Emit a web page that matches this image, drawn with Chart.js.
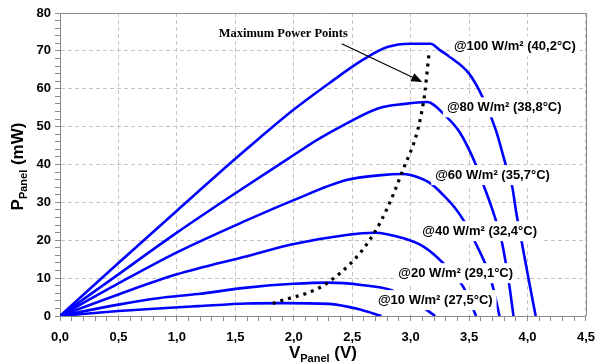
<!DOCTYPE html>
<html>
<head>
<meta charset="utf-8">
<script src="https://cdn.jsdelivr.net/npm/chart.js@4.4.1/dist/chart.umd.min.js"></script>
<style>
  html, body { margin: 0; padding: 0; background: #fff; }
</style>
</head>
<body>
<canvas id="chart" width="604" height="363"></canvas>
<script>
// panel voltage (V) / power (mW), one pair per irradiance
const v100 = [0, 0.5, 1.0, 1.5, 1.7, 2.0, 2.3, 2.6, 2.8, 3.0, 3.17, 3.25, 3.33, 3.5, 3.62, 3.73, 3.81, 3.87, 3.9, 3.95, 4.02, 4.07];
const p100 = [0, 14, 27.8, 41.5, 46.8, 54.5, 61.4, 67.8, 71, 71.9, 71.9, 70.2, 68.5, 64, 57.5, 49, 40.3, 34, 28, 19.6, 8, 0];

const v80 = [0, 0.5, 1.0, 1.5, 2.0, 2.2, 2.45, 2.72, 2.95, 3.14, 3.3, 3.42, 3.55, 3.63, 3.7, 3.78, 3.84, 3.88];
const p80 = [0, 11, 22, 32.4, 42.5, 46.5, 50.8, 54.8, 56, 56.5, 52.8, 48.5, 40.5, 34, 28, 19.6, 9, 0];

const v60 = [0, 0.5, 1.0, 1.6, 2.0, 2.45, 2.75, 2.92, 3.0, 3.17, 3.28, 3.38, 3.46, 3.55, 3.67, 3.71, 3.76];
const p60 = [0, 8.6, 16.8, 25.3, 30.6, 35.9, 37.2, 37.5, 37.2, 35, 31.9, 28.5, 24.9, 19.6, 11.3, 6.9, 0];

const v40 = [0, 0.5, 1.0, 1.6, 2.0, 2.45, 2.69, 2.94, 3.11, 3.28, 3.45, 3.56];
const p40 = [0, 5.7, 11, 15.8, 19, 21.4, 22, 20.5, 18.3, 13.9, 7.7, 0];

const v20 = [0, 0.5, 0.84, 1.18, 1.6, 2.0, 2.3, 2.58, 2.83, 3.0, 3.21];
const p20 = [0, 3, 4.7, 5.8, 7.5, 8.5, 8.8, 8.2, 6.9, 4.5, 0];

const v10 = [0, 0.5, 0.84, 1.18, 1.6, 1.9, 2.3, 2.58, 2.75];
const p10 = [0, 1.3, 2.0, 2.6, 3.3, 3.4, 3.2, 1.6, 0];

// maximum power points
const vMpp = [1.82, 2.30, 2.69, 2.92, 3.11, 3.16];
const pMpp = [3.3, 9.0, 22, 37.5, 56.5, 70];

const curveNames = [
  "@100 W/m² (40,2°C)",
  "@80 W/m² (38,8°C)",
  "@60 W/m² (35,7°C)",
  "@40 W/m² (32,4°C)",
  "@20 W/m² (29,1°C)",
  "@10 W/m² (27,5°C)"
];

const xTicks = [0, 0.5, 1.0, 1.5, 2.0, 2.5, 3.0, 3.5, 4.0, 4.5];
const yTicks = [0, 10, 20, 30, 40, 50, 60, 70, 80];

// where each curve name sits (left edge, middle), in axis units
const namePlaces = [[3.37, 71.2], [3.31, 55.1], [3.21, 37.2], [3.10, 22.4], [2.895, 11.3], [2.72, 4.2]];

function pts(vs, ps) {
  return vs.map((v, i) => ({ x: v, y: ps[i] }));
}

const isMajor = (v, list) => list.some(t => Math.abs(t - v) < 1e-6);
const comma = v => v.toFixed(1).replace(".", ",");

const blue = "#0000ff";
const curve = (vs, ps) => ({
  data: pts(vs, ps),
  borderColor: blue,
  borderWidth: 2.6,
  pointRadius: 0,
  cubicInterpolationMode: "monotone",
  fill: false
});

const sans = '"Liberation Sans", Arial, sans-serif';

const overlay = {
  id: "overlay",
  afterDatasetsDraw(chart) {
    const { ctx, chartArea: a, scales: { x, y } } = chart;
    ctx.save();

    // frame top/right
    ctx.strokeStyle = "#8c8c8c";
    ctx.lineWidth = 1;
    ctx.beginPath();
    ctx.moveTo(a.left, Math.round(a.top) + 0.5);
    ctx.lineTo(Math.round(a.right) + 0.5, Math.round(a.top) + 0.5);
    ctx.lineTo(Math.round(a.right) + 0.5, a.bottom);
    ctx.stroke();

    // curve names with white boxes
    ctx.font = "bold 13px " + sans;
    ctx.textBaseline = "middle";
    ctx.textAlign = "left";
    curveNames.forEach((t, i) => {
      const px = x.getPixelForValue(namePlaces[i][0]);
      const py = y.getPixelForValue(namePlaces[i][1]);
      const w = ctx.measureText(t).width;
      ctx.fillStyle = "#fff";
      ctx.fillRect(px - 4, py - 10, w + 8, 20);
      ctx.fillStyle = "#000";
      ctx.fillText(t, px, py);
    });

    // "Maximum Power Points" + arrow
    ctx.font = 'bold 12.5px "Liberation Serif", "Times New Roman", serif';
    ctx.textAlign = "center";
    ctx.fillText("Maximum Power Points", x.getPixelForValue(1.91), y.getPixelForValue(74.6));

    const x0 = x.getPixelForValue(2.41), y0 = y.getPixelForValue(71.9);
    const x1 = x.getPixelForValue(3.10), y1 = y.getPixelForValue(61.8);
    const ang = Math.atan2(y1 - y0, x1 - x0);
    ctx.strokeStyle = "#000";
    ctx.lineWidth = 1.2;
    ctx.beginPath();
    ctx.moveTo(x0, y0);
    ctx.lineTo(x1 - 8 * Math.cos(ang), y1 - 8 * Math.sin(ang));
    ctx.stroke();
    ctx.fillStyle = "#000";
    ctx.beginPath();
    ctx.moveTo(x1, y1);
    ctx.lineTo(x1 - 11 * Math.cos(ang) + 4.5 * Math.sin(ang), y1 - 11 * Math.sin(ang) - 4.5 * Math.cos(ang));
    ctx.lineTo(x1 - 11 * Math.cos(ang) - 4.5 * Math.sin(ang), y1 - 11 * Math.sin(ang) + 4.5 * Math.cos(ang));
    ctx.closePath();
    ctx.fill();

    // axis titles with subscripts
    const parts = (main, sub, rest) => [
      { t: main, f: "bold 17px " + sans, dy: 0 },
      { t: sub, f: "bold 11px " + sans, dy: 4 },
      { t: rest, f: "bold 17px " + sans, dy: 0 }
    ];
    const drawTitle = (segs, cx, cy, rot) => {
      ctx.save();
      ctx.translate(cx, cy);
      ctx.rotate(rot);
      ctx.textAlign = "left";
      ctx.textBaseline = "alphabetic";
      let total = 0;
      segs.forEach(s => { ctx.font = s.f; s.w = ctx.measureText(s.t).width; total += s.w; });
      let pos = -total / 2;
      segs.forEach(s => { ctx.font = s.f; ctx.fillText(s.t, pos, s.dy); pos += s.w; });
      ctx.restore();
    };
    drawTitle(parts("V", "Panel", " (V)"), (a.left + a.right) / 2, 358, 0);
    drawTitle(parts("P", "Panel", " (mW)"), 23, (a.top + a.bottom) / 2 + 2, -Math.PI / 2);

    ctx.restore();
  }
};

new Chart(document.getElementById("chart"), {
  type: "line",
  data: {
    datasets: [
      {
        data: pts(vMpp, pMpp),
        borderColor: "#000",
        borderWidth: 3.2,
        borderDash: [3, 5],
        borderCapStyle: "butt",
        pointRadius: 0,
        cubicInterpolationMode: "monotone",
        fill: false
      },
      curve(v100, p100),
      curve(v80, p80),
      curve(v60, p60),
      curve(v40, p40),
      curve(v20, p20),
      curve(v10, p10)
    ]
  },
  plugins: [overlay],
  options: {
    responsive: false,
    animation: false,
    layout: { padding: { top: 13, right: 9, left: 0, bottom: 0 } },
    plugins: { legend: { display: false }, tooltip: { enabled: false } },
    scales: {
      x: {
        type: "linear",
        min: 0,
        max: 4.5,
        afterFit: s => { s.height = 47; },
        ticks: {
          stepSize: 0.1,
          autoSkip: false,
          maxRotation: 0,
          padding: 9,
          color: "#000",
          font: { family: sans, size: 13, weight: "bold" },
          callback: v => (isMajor(v, xTicks) ? comma(v) : "")
        },
        grid: {
          color: c => (c.tick && isMajor(c.tick.value, xTicks) && c.tick.value > 0 ? "#c4c4c4" : "rgba(0,0,0,0)"),
          tickColor: "#8c8c8c",
          tickLength: 5,
          lineWidth: 1
        },
        border: { color: "#8c8c8c", dash: [4, 3] }
      },
      y: {
        min: 0,
        max: 80,
        afterFit: s => { s.width = 60; },
        ticks: {
          stepSize: 2,
          autoSkip: false,
          padding: 4,
          color: "#000",
          font: { family: sans, size: 13, weight: "bold" },
          callback: v => (isMajor(v, yTicks) ? String(v) : "")
        },
        grid: {
          color: c => (c.tick && isMajor(c.tick.value, yTicks) && c.tick.value > 0 && c.tick.value < 80 ? "#c4c4c4" : "rgba(0,0,0,0)"),
          tickColor: "#8c8c8c",
          tickLength: 5,
          lineWidth: 1
        },
        border: { color: "#8c8c8c", dash: [4, 3] }
      }
    }
  }
});
</script>
</body>
</html>
